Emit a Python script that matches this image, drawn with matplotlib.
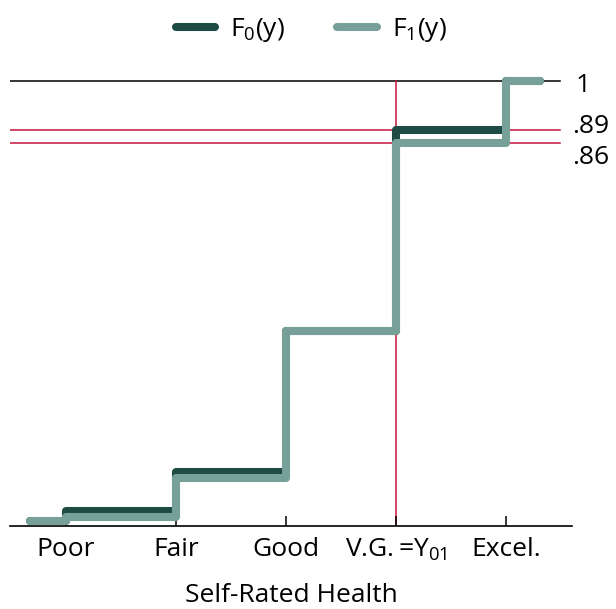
import numpy as np
import matplotlib
matplotlib.use("Agg")
import matplotlib.pyplot as plt

plt.rcParams['font.family'] = ['Open Sans', 'DejaVu Sans']
plt.rcParams['mathtext.default'] = 'regular'

categories = ["Poor", "Fair", "Good", "V.G.$\\,$=Y$_{01}$", "Excel."]
cat_pos = [1, 2, 3, 4, 5]
# cumulative distribution levels (start level, then after each category)
F0 = [0.011, 0.034, 0.121, 0.438, 0.89, 1.0]
F1 = [0.011, 0.020, 0.108, 0.438, 0.86, 1.0]
ref_levels = [0.89, 0.86]
ref_labels = [".89", ".86"]

dark = "#1e4b44"
teal = "#76a098"
crimson = "#c8143c"
fs = 19

fig = plt.figure(figsize=(6.16, 6.09), dpi=100)
ax = fig.add_axes([0.0162, 0.1363, 0.912, 0.765])

x_start, x_end = 0.67, 5.31
xs = [x_start] + cat_pos + [x_end]

def step_xy(levels):
    px, py = [], []
    for i, lv in enumerate(levels):
        px += [xs[i], xs[i + 1]]
        py += [lv, lv]
    return px, py

# reference lines
ax.plot([0.49, 5.49], [1, 1], color="black", lw=1.1, zorder=1)
for lv in ref_levels:
    ax.plot([0.49, 5.49], [lv, lv], color=crimson, lw=1.1, zorder=1)
ax.plot([4, 4], [0, 1], color=crimson, lw=1.1, zorder=1)

px, py = step_xy(F0)
ax.plot(px, py, color=dark, lw=5.8, solid_capstyle="round",
        solid_joinstyle="round", zorder=3, label="F$_0$(y)")
px, py = step_xy(F1)
ax.plot(px, py, color=teal, lw=5.8, solid_capstyle="round",
        solid_joinstyle="round", zorder=4, label="F$_1$(y)")

ax.text(5.63, 0.99, "1", fontsize=fs, va="center", ha="left", clip_on=False)
ax.text(5.6, 0.897, ref_labels[0], fontsize=fs, va="center", ha="left", clip_on=False)
ax.text(5.6, 0.829, ref_labels[1], fontsize=fs, va="center", ha="left", clip_on=False)

ax.set_xlim(0.49, 5.6)
ax.set_ylim(0, 1.047)
for s in ["top", "right", "left"]:
    ax.spines[s].set_visible(False)
ax.spines["bottom"].set_linewidth(1.2)
ax.set_yticks([])
ax.set_xticks(cat_pos)
ax.set_xticklabels(categories, fontsize=fs)
ax.tick_params(axis="x", direction="in", length=7, width=1.1, pad=8)
ax.set_xlabel("Self-Rated Health", fontsize=fs, labelpad=14)

fig.legend(loc="upper center", bbox_to_anchor=(0.505, 1.012), ncol=2,
           frameon=False, fontsize=fs, handlelength=1.5, handletextpad=0.55,
           columnspacing=2.0)

fig.savefig("out.png", dpi=100)
